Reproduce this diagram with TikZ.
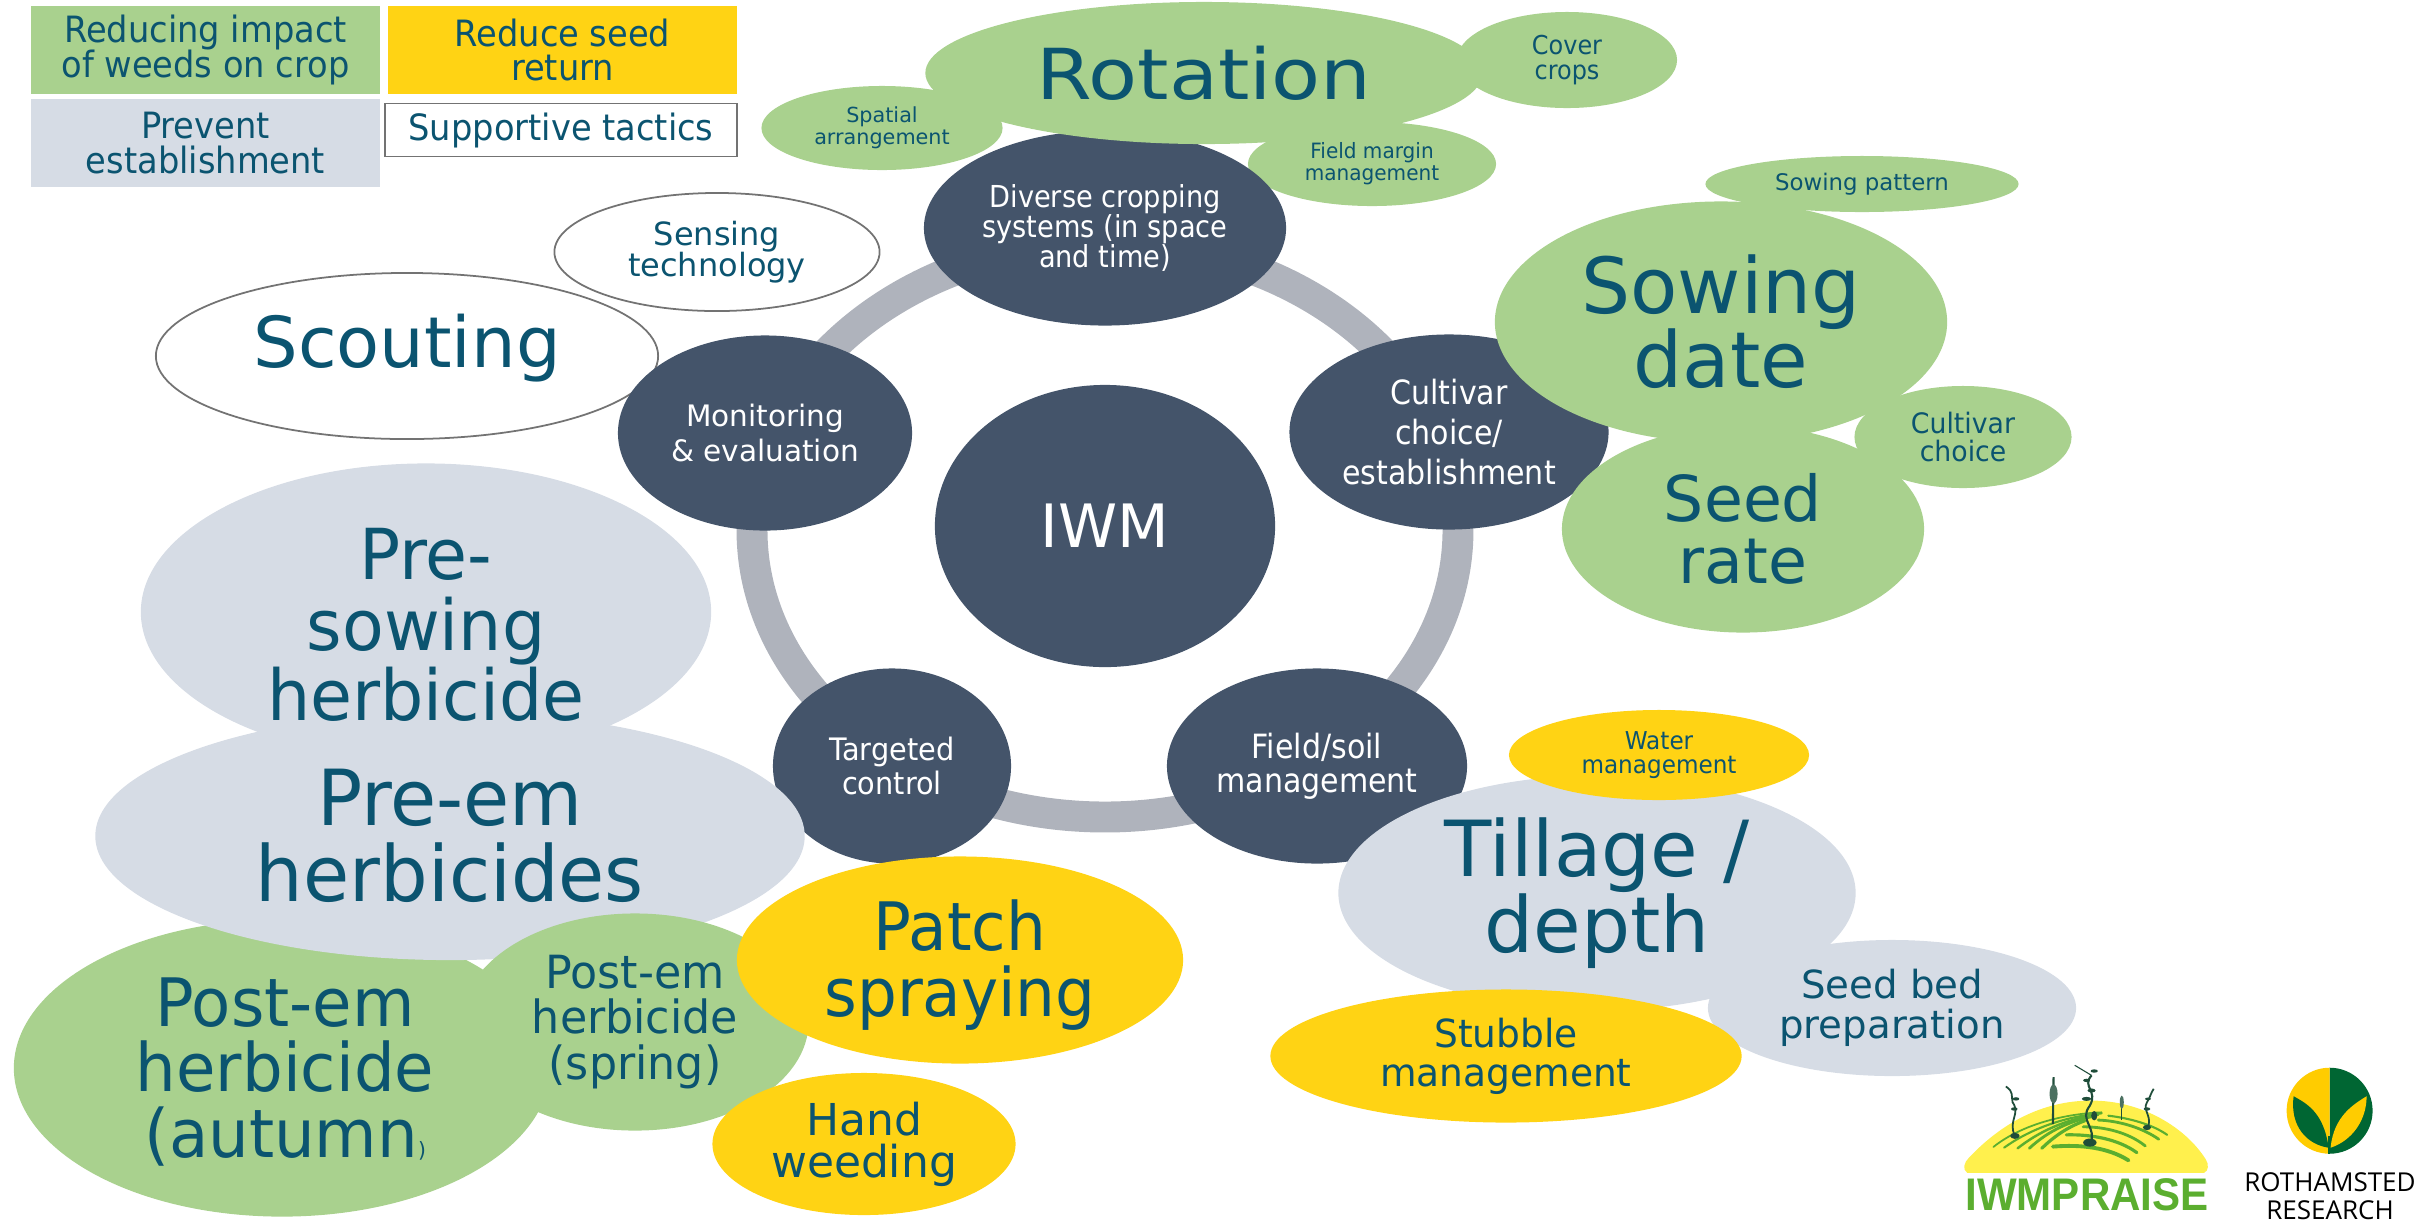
\documentclass[tikz,border=0pt]{standalone}
\usepackage{fontspec}
\setmainfont{DejaVu Sans}
\newfontfamily\logofont{Liberation Sans}
\newfontfamily\rothfont{Open Sans}
\usetikzlibrary{shapes.geometric}

\definecolor{cropgreen}{HTML}{A9D18E}
\definecolor{seedyellow}{HTML}{FFD314}
\definecolor{preventgrey}{HTML}{D6DCE5}
\definecolor{slatedark}{HTML}{44546A}
\definecolor{ringgrey}{HTML}{AFB3BC}
\definecolor{tealtext}{HTML}{0B5470}
\definecolor{logogreen}{HTML}{5BAE2F}
\definecolor{logoyellow}{HTML}{FFF04D}
\definecolor{plantdark}{HTML}{1F4D3A}
\definecolor{rothgreen}{HTML}{006633}
\definecolor{rothyellow}{HTML}{FFCC00}

\newcommand{\fs}[2]{\fontsize{#1}{#2}\selectfont}
\newcommand{\sx}[2]{\scalebox{#1}[1]{\begingroup\def\\{\cr}\vbox{\lineskiplimit=-\maxdimen\halign{\hfil##\hfil\cr#2\crcr}}\endgroup}}

\tikzset{
	bubble/.style={ellipse, inner sep=0pt, outer sep=0pt, text=tealtext},
	greenbub/.style={bubble, fill=cropgreen},
	yellowbub/.style={bubble, fill=seedyellow},
	greybub/.style={bubble, fill=preventgrey},
	openbub/.style={bubble, fill=white, draw=black!55, line width=0.5pt},
	darkbub/.style={bubble, fill=slatedark, text=white, minimum height=1.95cm},
	legendbox/.style={rectangle, inner sep=0pt, outer sep=0pt, minimum width=3.49cm, minimum height=0.87cm, text=tealtext, font=\fs{10.3}{9.7}},
}

\begin{document}
\begin{tikzpicture}[x=0.01cm, y=-0.01cm]
	\useasboundingbox (0,0) rectangle (2427,1220);

	% Legend
	\node[legendbox, fill=cropgreen] (legendimpact) at (205.5,50) {\sx{.93}{Reducing impact\\of weeds on crop}};
	\node[legendbox, fill=seedyellow] (legendseed) at (562.5,50) {\sx{.93}{Reduce seed\\return}};
	\node[legendbox, fill=preventgrey] (legendprevent) at (205.5,143) {\sx{.93}{Prevent\\establishment}};
	\node[legendbox, fill=white, draw=black!55, line width=0.5pt, minimum width=3.52cm, minimum height=0.53cm] (legendsupport) at (561,130) {\sx{.93}{Supportive tactics}};

	% Ring behind the circles
	\draw[ringgrey, line width=8.8pt] (1105,530) ellipse [x radius=353, y radius=287];

	% Centre
	\node[bubble, fill=slatedark, text=white, minimum width=3.4cm, minimum height=2.82cm, font=\fs{17}{20}] (iwm) at (1105,526) {IWM};

	% Top group
	\node[greenbub, minimum width=2.41cm, minimum height=0.84cm, font=\fs{5.9}{6.2}] (spatial) at (882,128) {\sx{1}{Spatial\\arrangement}};
	\node[greenbub, minimum width=2.48cm, minimum height=0.84cm, font=\fs{6}{6.2}] (fieldmargin) at (1372,164) {\sx{.95}{Field margin\\management}};
	\node[darkbub, minimum width=3.62cm, font=\fs{8.6}{8.6}] (diverse) at (1105,228) {\sx{.9}{Diverse cropping\\systems (in space\\and time)}};
	\node[greenbub, minimum width=5.57cm, minimum height=1.42cm, font=\fs{20}{20}] (rotation) at (1204,73) {\sx{1.14}{Rotation}};
	\node[greenbub, minimum width=2.2cm, minimum height=0.96cm, font=\fs{7.4}{7}] (cover) at (1567,60) {\sx{.92}{Cover\\crops}};

	% Left supportive group
	\node[openbub, minimum width=5.02cm, minimum height=1.66cm] (scouting) at (407,356) {};
	\node[font=\fs{20}{20}, text=tealtext, inner sep=0pt] (scoutinglabel) at (407,348) {Scouting};
	\node[openbub, minimum width=3.25cm, minimum height=1.18cm, font=\fs{9.1}{8.8}] (sensing) at (717,252) {\sx{1}{Sensing\\technology}};
	\node[darkbub, minimum width=2.94cm, font=\fs{8.4}{9.7}] (monitoring) at (765,433) {\sx{1}{Monitoring\\\& evaluation}};

	% Right group
	\node[darkbub, minimum width=3.19cm, font=\fs{9.5}{11.5}] (cultivar) at (1449,432) {\sx{.9}{Cultivar\\choice/\\establishment}};
	\node[greenbub, minimum width=3.13cm, minimum height=0.56cm, font=\fs{6.5}{7}] (pattern) at (1862,184) {Sowing pattern};
	\node[greenbub, minimum width=4.52cm, minimum height=2.41cm, font=\fs{22}{21}] (sowing) at (1721,322) {\sx{1}{Sowing\\date}};
	\node[greenbub, minimum width=2.17cm, minimum height=1.02cm, font=\fs{8}{8}] (choice) at (1963,437) {\sx{.95}{Cultivar\\choice}};
	\node[greenbub, minimum width=3.62cm, minimum height=2.07cm, font=\fs{18}{17.7}] (seedrate) at (1743,529) {\sx{1}{Seed\\rate}};

	% Soil group
	\node[darkbub, minimum width=3cm, font=\fs{9.5}{9.7}] (fieldsoil) at (1317,766) {\sx{.9}{Field/soil\\management}};
	\node[greybub, minimum width=5.17cm, minimum height=2.35cm, font=\fs{22}{21.6}] (tillage) at (1597,893) {\sx{1}{Tillage /\\depth}};
	\node[yellowbub, minimum width=3cm, minimum height=0.9cm, font=\fs{7}{6.7}] (water) at (1659,755) {\sx{.94}{Water\\management}};
	\node[greybub, minimum width=3.68cm, minimum height=1.36cm, font=\fs{11}{11.5}] (seedbed) at (1892,1008) {\sx{1}{Seed bed\\preparation}};
	\node[yellowbub, minimum width=4.71cm, minimum height=1.33cm, font=\fs{11}{11}] (stubble) at (1506,1056) {\sx{.97}{Stubble\\management}};

	% Herbicide group
	\node[darkbub, minimum width=2.38cm, font=\fs{8.8}{9.7}] (targeted) at (892,766) {\sx{.93}{Targeted\\control}};
	\node[greenbub, minimum width=5.36cm, minimum height=2.97cm] (autumn) at (282,1068) {};
	\node[font=\fs{19}{18.5}, text=tealtext, inner sep=0pt] (autumnlabel) at (285,1072) {\sx{.96}{Post-em\\herbicide\\(autumn{\fs{6}{6})}}};
	\node[greybub, minimum width=7.09cm, minimum height=2.48cm, font=\fs{22}{21.5}] (preem) at (450,836) {\sx{.97}{Pre-em\\herbicides}};
	\node[greybub, minimum width=5.7cm, minimum height=2.97cm] (presowing) at (426,612) {};
	\node[font=\fs{20}{20}, text=tealtext, inner sep=0pt] (presowinglabel) at (426,625) {\sx{.97}{Pre-\\sowing\\herbicide}};
	\node[greenbub, minimum width=3.47cm, minimum height=2.17cm, font=\fs{13}{13}] (spring) at (635,1022) {\sx{.97}{Post-em\\herbicide\\(spring)}};
	\node[yellowbub, minimum width=4.46cm, minimum height=2.07cm] (patch) at (960,960) {};
	\node[font=\fs{19}{19}, text=tealtext, inner sep=0pt] (patchlabel) at (960,965) {\sx{.94}{Patch\\spraying}};
	\node[yellowbub, minimum width=3.03cm, minimum height=1.42cm, font=\fs{12.5}{12}] (hand) at (864,1144) {\sx{1}{Hand\\weeding}};

	% IWM logo, in the crop's own pixels
	\begin{scope}[shift={(1900,1030)}, scale=0.336]
		\fill[logoyellow] (200,425) .. controls (185,415) and (190,395) .. (205,380) .. controls (300,280) and (420,210) .. (570,210) .. controls (720,210) and (850,290) .. (910,385) .. controls (920,400) and (918,420) .. (905,425) -- cycle;
		% Furrows
		\draw[logogreen, line width=1.1pt, line cap=round] (455,347) .. controls (540,340) and (620,350) .. (680,388);
		\draw[logogreen, line width=0.9pt, line cap=round] (495,312) .. controls (570,310) and (650,325) .. (705,365);
		\draw[logogreen, line width=0.8pt, line cap=round] (545,288) .. controls (610,288) and (680,305) .. (730,345);
		\draw[logogreen, line width=0.8pt, line cap=round] (590,268) .. controls (650,270) and (720,290) .. (770,325);
		\draw[logogreen, line width=0.6pt, line cap=round] (620,255) .. controls (680,262) and (750,280) .. (795,312);
		\draw[logogreen, line width=0.5pt, line cap=round] (278,348) .. controls (350,290) and (470,250) .. (600,245);
		\draw[logogreen, line width=0.6pt, line cap=round] (310,350) .. controls (380,300) and (480,258) .. (600,248);
		\draw[logogreen, line width=0.7pt, line cap=round] (350,352) .. controls (410,305) and (490,265) .. (590,252);
		\draw[logogreen, line width=0.8pt, line cap=round] (385,352) .. controls (430,310) and (490,275) .. (570,258);
		\draw[logogreen, line width=0.9pt, line cap=round] (422,352) .. controls (455,320) and (495,290) .. (550,270);
		% Plants
		\draw[plantdark, line width=0.5pt] (342,315) .. controls (320,270) and (360,250) .. (335,215) .. controls (330,195) and (340,185) .. (315,168);
		\draw[plantdark, line width=0.6pt] (455,280) -- (457,140);
		\draw[plantdark, line width=0.6pt] (565,340) .. controls (590,290) and (530,270) .. (565,225) .. controls (590,180) and (540,170) .. (570,135);
		\draw[plantdark, line width=0.3pt] (570,135) -- (520,105);
		\draw[plantdark, line width=0.4pt] (660,268) -- (660,195);
		\draw[plantdark, line width=0.5pt] (735,295) .. controls (755,260) and (720,240) .. (735,215) .. controls (745,200) and (745,190) .. (755,175);
		\fill[plantdark] (342,315) ellipse [x radius=14, y radius=9];
		\fill[plantdark] (565,335) ellipse [x radius=20, y radius=12];
		\fill[plantdark] (735,290) ellipse [x radius=12, y radius=8];
		\fill[plantdark!80] (457,190) ellipse [x radius=12, y radius=28];
		\fill[plantdark!80] (660,215) ellipse [x radius=6, y radius=20];
		\fill[plantdark] (555,205) ellipse [x radius=14, y radius=6];
		\fill[plantdark] (570,180) ellipse [x radius=12, y radius=6];
		\fill[plantdark] (555,150) ellipse [x radius=10, y radius=5];
		\fill[plantdark] (578,122) ellipse [x radius=11, y radius=5];
		\fill[plantdark] (578,255) ellipse [x radius=9, y radius=14];
		\fill[plantdark] (340,235) ellipse [x radius=10, y radius=5];
		\fill[plantdark] (345,205) ellipse [x radius=10, y radius=5];
		\fill[plantdark] (735,235) ellipse [x radius=10, y radius=5];
		\fill[plantdark] (738,205) ellipse [x radius=9, y radius=4];
	\end{scope}
	\node[text=logogreen, font=\logofont\bfseries\fs{13}{13}, inner sep=0pt] (iwmpraise) at (2087,1195) {\scalebox{.92}[1]{IWMPRAISE}};

	% Rothamsted logo
	\begin{scope}[shift={(2329.6,1110.7)}]
		\fill[rothgreen] (0,-43) arc [start angle=-90, end angle=90, radius=43];
		\fill[rothyellow] (0,-43) arc [start angle=270, end angle=90, radius=43];
		\fill[rothgreen] (-1,37) .. controls (-22,34) and (-40,16) .. (-36,-14.5) .. controls (-25,-8) and (-6,0) .. (-1,37) -- cycle;
		\fill[rothyellow] (1,37) .. controls (22,30) and (37,10) .. (37,-14.5) .. controls (25,-7) and (4,5) .. (1,37) -- cycle;
		\fill[rothgreen] (-1.5,25) rectangle (0,43);
	\end{scope}
	\node[font=\rothfont\fs{7.4}{8}, align=center, inner sep=0pt, anchor=north] (rothamsted) at (2330,1172) {ROTHAMSTED\\RESEARCH};

\end{tikzpicture}
\end{document}
